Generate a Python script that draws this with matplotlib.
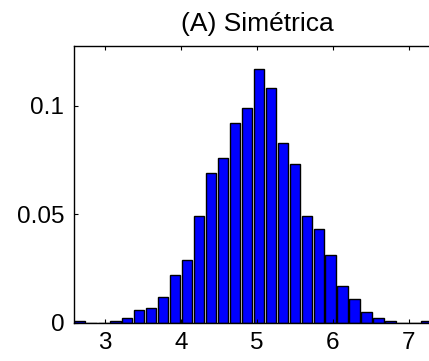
import numpy as np
import matplotlib.pyplot as plt

plt.rcParams['font.family'] = ['Liberation Sans', 'DejaVu Sans']

# Relative frequency per bin (30 bins, first centre at 2.66)
bin_start = 2.66
bin_width = 0.1577
freqs = [0.001, 0.0, 0.0, 0.001, 0.002, 0.006, 0.007, 0.012, 0.022, 0.029,
         0.049, 0.069, 0.076, 0.092, 0.099, 0.117, 0.108, 0.083, 0.073, 0.049,
         0.043, 0.031, 0.017, 0.011, 0.005, 0.002, 0.001, 0.0, 0.0, 0.001]
xticks = [3, 4, 5, 6, 7]
yticks = [0, 0.05, 0.1]
ytick_labels = ['0', '0.05', '0.1']

centers = bin_start + bin_width * np.arange(len(freqs))

fig = plt.figure(figsize=(4.29, 3.61), dpi=100)
# axes run a little past the right edge of the figure
ax = fig.add_axes([0.1725, 0.106, 0.853, 0.7666])

ax.bar(centers, freqs, width=bin_width * 0.88, color='#0000ff',
       edgecolor='black', linewidth=1.0)

ax.set_xlim(2.59, 7.41)
ax.set_ylim(0, 0.1275)
ax.set_xticks(xticks)
ax.set_yticks(yticks)
ax.set_yticklabels(ytick_labels)
ax.tick_params(direction='in', length=3, width=0.8, labelsize=17.5,
               top=True, right=True, pad=7)
ax.tick_params(axis='x', pad=7)
for s in ax.spines.values():
    s.set_linewidth(1.0)

ax.set_title('(A) Simétrica', fontsize=19, pad=11)

fig.savefig('out.png', dpi=100)
